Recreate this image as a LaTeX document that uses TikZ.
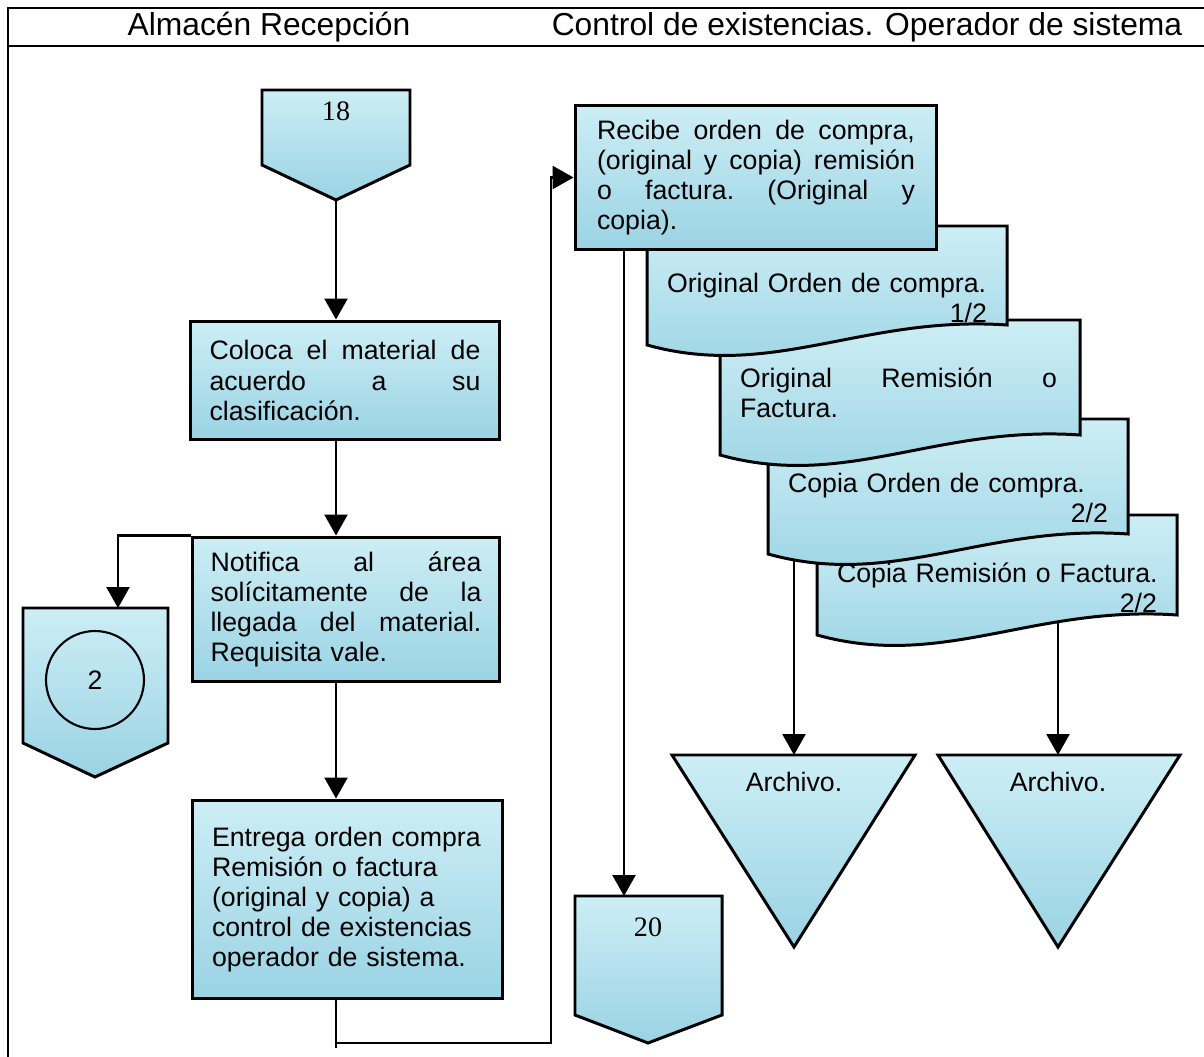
\documentclass[tikz,border=0pt]{standalone}
\usepackage{fontspec}
\setmainfont{Liberation Sans}
\newfontfamily\romanfont{Liberation Serif}
\usetikzlibrary{arrows.meta,calc}
\definecolor{waterA}{HTML}{CDEEF5}
\definecolor{waterB}{HTML}{9AD3E4}
% one justified line: interword spaces stretched to the full text width
\newcommand\jline[1]{\leavevmode\hbox to \linewidth{\spaceskip=.28em plus 1fil\xspaceskip=.28em plus 1fil\relax #1}}
\newcommand\bodysize{\fontsize{15.2}{17.1}\selectfont}
\newcommand\headsize{\fontsize{18.1}{20}\selectfont}
\newcommand\numsize{\romanfont\fontsize{16}{18}\selectfont}

\begin{document}
\begin{tikzpicture}[x=0.02cm,y=-0.02cm,
  water/.style={top color=waterA,bottom color=waterB},
  outline/.style={draw=black,line width=1.7pt,line join=miter},
  procbox/.style={outline,water,rectangle,inner sep=0pt,align=left,font=\bodysize},
  doctext/.style={inner sep=0pt,align=left,font=\bodysize,text width=6.4cm},
  frame/.style={line width=1.1pt},
  link/.style={line width=1.4pt},
  conn/.style={link,-{Triangle[length=4.2mm,width=4.6mm]}}
]
\useasboundingbox (0,0) rectangle (1204,1057);

% lane frame and header
\draw[frame] (8,1057) -- (8,8) -- (1204,8);
\draw[frame] (8,46) -- (1204,46);
\node[font=\headsize] (lane1) at (269,27) {Almacén Recepción};
\node[font=\headsize] (lane2) at (867,27) {Control de existencias. Operador de sistema};

% ---- left lane ----
\path[outline,water] (262,90) -- (410,90) -- (410,165) -- (336,200) -- (262,165) -- cycle;
\node[font=\numsize] (n18) at (336,111) {18};
\coordinate (n18tip) at (336,200);

\node[procbox,minimum width=6.2cm,minimum height=2.38cm,text width=5.42cm] (coloca) at (345,380.5)
  {\jline{Coloca el material de}\\\jline{acuerdo a su}\\clasificación.};

\node[procbox,minimum width=6.16cm,minimum height=2.9cm,text width=5.42cm] (notifica) at (346,609.5)
  {\jline{Notifica al área}\\\jline{solícitamente de la}\\\jline{llegada del material.}\\Requisita vale.};

\path[outline,water] (23,608) -- (168,608) -- (168,743) -- (95,777) -- (23,743) -- cycle;
\node[circle,draw,line width=1.2pt,minimum size=1.96cm,inner sep=0pt,font=\bodysize] (n2) at (95,680) {2};
\coordinate (n2top) at (118,608);

\node[procbox,minimum width=6.22cm,minimum height=3.98cm,text width=5.42cm] (entrega) at (347.5,899.5)
  {Entrega orden compra\\Remisión o factura\\(original y copia) a\\control de existencias\\operador de sistema.\\[4pt]};

% ---- right lane: document stack (back to front) ----
\path[outline,water] (817,515) -- (1177,515) -- (1177,615)
  .. controls (1033,605) and (943,670) .. (817,635) -- cycle;
\node[doctext] (doc4) at (997,587.5)
  {\mbox{Copia Remisión o Factura.}\\\makebox[\linewidth][r]{2/2}};

\path[outline,water] (768,419) -- (1128,419) -- (1128,534)
  .. controls (984,524) and (894,589) .. (768,554) -- cycle;
\node[doctext] (doc3) at (948,498)
  {\mbox{Copia Orden de compra.}\\\makebox[\linewidth][r]{2/2}};

\path[outline,water] (720,320) -- (1080,320) -- (1080,435)
  .. controls (936,425) and (846,490) .. (720,455) -- cycle;
\node[doctext,text width=6.34cm] (doc2) at (898.5,393)
  {\jline{Original Remisión o}\\Factura.};

\path[outline,water] (647,226) -- (1007,226) -- (1007,325)
  .. controls (863,315) and (773,380) .. (647,345) -- cycle;
\node[doctext] (doc1) at (827,298)
  {\mbox{Original Orden de compra.}\\\makebox[\linewidth][r]{1/2}};

\node[procbox,minimum width=7.24cm,minimum height=2.9cm,text width=6.36cm] (recibe) at (756,177.5)
  {\jline{Recibe orden de compra,}\\\jline{(original y copia) remisión}\\\jline{o factura. (Original y}\\copia).};

\path[outline,water] (575,896) -- (722,896) -- (722,1015) -- (648,1043) -- (575,1015) -- cycle;
\node[font=\numsize] (n20) at (648,927) {20};
\coordinate (n20top) at (624,896);

\path[outline,water] (672,755) -- (915,755) -- (794,947) -- cycle;
\node[font=\bodysize] (arch1) at (794,782) {Archivo.};
\coordinate (t1top) at (794,755);

\path[outline,water] (938,755) -- (1180,755) -- (1058,947) -- cycle;
\node[font=\bodysize] (arch2) at (1058,782) {Archivo.};
\coordinate (t2top) at (1058,755);

\coordinate (d3foot) at (794,559);
\coordinate (d4foot) at (1058,622);
\coordinate (low) at (336,1043);
\coordinate (lowstub) at (336,1048);
\coordinate (riser) at (551,1043);

% ---- connectors ----
\draw[conn] (n18tip) -- (coloca.north -| n18tip);
\draw[conn] (coloca.south -| n18tip) -- (notifica.north -| n18tip);
\draw[conn] (notifica.south -| n18tip) -- (entrega.north -| n18tip);
\draw[conn] (notifica.north west) -| (n2top);
\draw[link] (entrega.south -| n18tip) -- (lowstub);
\draw[conn] (low) -- (riser) |- (recibe.west);
\draw[conn] (recibe.south -| n20top) -- (n20top);
\draw[conn] (d3foot) -- (t1top);
\draw[conn] (d4foot) -- (t2top);
\end{tikzpicture}
\end{document}
